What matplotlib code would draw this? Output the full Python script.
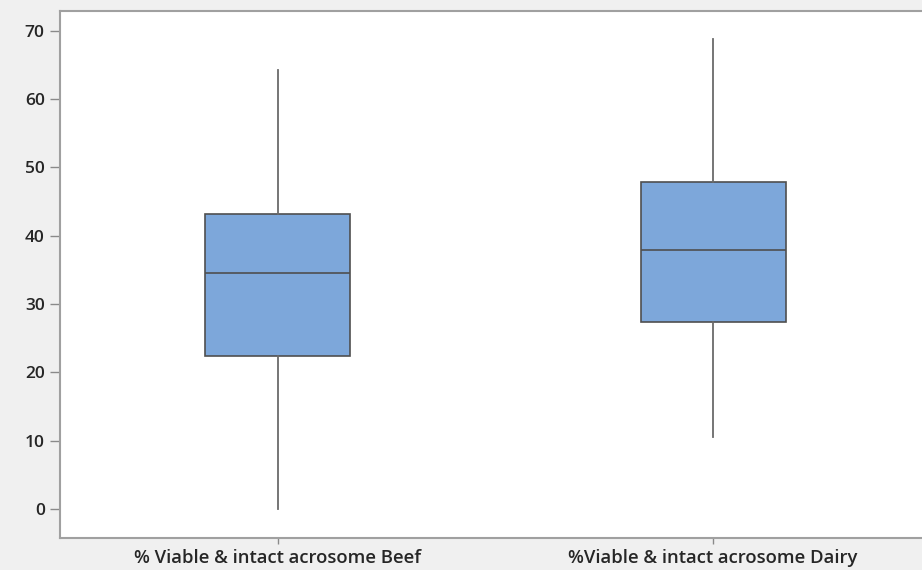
import matplotlib
matplotlib.use('Agg')
import matplotlib.pyplot as plt

# Five-number summaries for each group
GROUPS = ['% Viable & intact acrosome Beef', '%Viable & intact acrosome Dairy']
WHISKER_LOW = [0.0, 10.5]
Q1 = [22.4, 27.4]
MEDIAN = [34.5, 37.9]
Q3 = [43.2, 47.9]
WHISKER_HIGH = [64.2, 68.8]
Y_TICKS = [0, 10, 20, 30, 40, 50, 60, 70]

BG_COLOR = '#f0f0f0'
BOX_COLOR = '#7da7da'
EDGE_COLOR = '#4f4f4f'
TEXT_COLOR = '#262626'


def main():
    plt.rcParams['font.family'] = ['Open Sans', 'DejaVu Sans']

    fig = plt.figure(figsize=(9.22, 5.70), dpi=100, facecolor=BG_COLOR)
    ax = fig.add_axes([0.0651, 0.0561, 0.9349, 0.9246])
    ax.set_facecolor('white')

    stats = []
    for i, name in enumerate(GROUPS):
        stats.append({
            'label': name,
            'whislo': WHISKER_LOW[i],
            'q1': Q1[i],
            'med': MEDIAN[i],
            'q3': Q3[i],
            'whishi': WHISKER_HIGH[i],
            'fliers': [],
        })

    ax.bxp(
        stats,
        positions=[1, 2],
        widths=0.333,
        patch_artist=True,
        showcaps=False,
        boxprops=dict(facecolor=BOX_COLOR, edgecolor=EDGE_COLOR, linewidth=1.2),
        medianprops=dict(color=EDGE_COLOR, linewidth=1.2),
        whiskerprops=dict(color='#6a6a6a', linewidth=1.3),
    )

    ax.set_xlim(0.5, 2.48)
    ax.set_ylim(-4.25, 72.9)
    ax.set_yticks(Y_TICKS)
    ax.set_yticklabels([str(t) for t in Y_TICKS])

    for side in ['left', 'bottom', 'top']:
        ax.spines[side].set_color('#a0a0a0')
        ax.spines[side].set_linewidth(1.5)
    ax.spines['right'].set_visible(False)

    ax.tick_params(axis='both', colors='#8a8a8a', width=1, labelcolor=TEXT_COLOR)
    ax.tick_params(axis='y', length=7, pad=4, labelsize=12.5)
    ax.tick_params(axis='x', length=4, pad=4, labelsize=13.3)
    for label in ax.get_xticklabels() + ax.get_yticklabels():
        label.set_fontweight('semibold')

    fig.savefig('out.png', dpi=100, facecolor=BG_COLOR)


if __name__ == '__main__':
    main()
